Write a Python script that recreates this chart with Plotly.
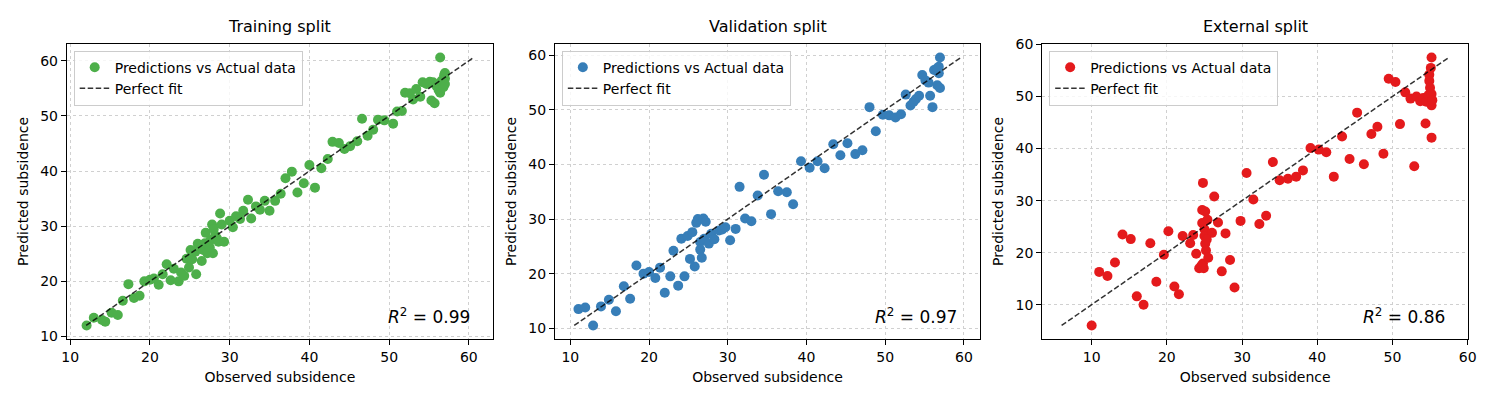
import plotly.graph_objects as go

titles = ["Training split", "Validation split", "External split"]
r2_labels = ["0.99", "0.97", "0.86"]
colors = ["#4daf4a", "#377eb8", "#e41a1c"]

train_obs = [12.06, 12.96, 14.0, 14.4, 15.2, 15.97, 16.6, 17.3, 18.0, 18.7, 19.3, 20.0, 20.5, 21.1, 21.6,
             22.1, 22.6, 23.0, 23.6, 23.9, 24.3, 24.6, 24.9, 25.1, 25.8, 25.7, 26.3, 26.5, 26.7, 26.9,
             27.0, 27.2, 27.6, 27.8, 27.9, 28.2, 28.4, 28.6, 28.8, 29.0, 29.3, 30.0, 30.4, 30.8, 31.3,
             31.7, 32.3, 32.7, 33.3, 33.8, 34.4, 35.0, 35.7, 36.4, 37.0, 37.8, 38.5, 39.3, 40.0, 40.7,
             41.5, 42.3, 42.9, 43.7, 44.4, 45.1, 46.0, 46.6, 47.3, 48.0, 48.6, 49.4, 50.5, 51.0, 51.6,
             52.0, 52.6, 53.0, 53.4, 53.9, 54.2, 54.7, 55.1, 55.3, 55.7, 55.5, 55.9, 56.2, 56.4, 56.4,
             56.6, 56.8, 56.9, 57.0, 57.0, 57.0, 26.0, 27.5, 28.0, 25.3]
train_pred = [12.0, 13.4, 13.0, 12.7, 14.3, 13.9, 16.5, 19.5, 17.0, 17.4, 20.0, 20.3, 20.5, 19.4, 21.3,
              23.1, 20.2, 22.3, 20.0, 21.6, 21.0, 24.1, 22.5, 25.7, 21.3, 25.4, 26.4, 23.7, 25.7, 26.9,
              28.8, 25.1, 27.5, 30.3, 25.1, 28.3, 27.8, 27.2, 32.3, 30.3, 27.2, 31.0, 29.8, 31.8, 31.3,
              32.8, 34.8, 31.4, 33.6, 33.0, 34.6, 32.8, 34.6, 35.9, 38.7, 39.9, 36.1, 37.8, 41.1, 37.0,
              40.5, 42.2, 45.3, 45.1, 44.0, 44.5, 45.4, 49.5, 46.4, 47.5, 49.3, 49.2, 48.6, 50.8, 50.9,
              54.2, 54.1, 53.0, 54.9, 53.5, 56.1, 55.8, 56.2, 52.8, 52.3, 56.1, 55.5, 54.7, 60.6, 54.2,
              56.4, 55.2, 57.4, 57.8, 56.8, 55.8, 26.8, 26.2, 29.5, 24.0]

val_obs = [11.04, 11.9, 12.9, 13.9, 14.9, 15.8, 16.8, 17.6, 18.4, 19.3, 20.0, 20.8, 21.4, 22.0, 22.7,
           23.1, 23.7, 24.1, 24.5, 24.9, 25.2, 25.5, 25.8, 26.0, 26.2, 26.5, 26.5, 26.7, 26.9, 27.2,
           27.0, 27.6, 27.9, 28.3, 28.9, 29.3, 29.7, 30.3, 31.0, 31.5, 32.2, 33.0, 33.8, 34.6, 35.5,
           36.4, 37.5, 38.3, 39.3, 40.4, 41.4, 42.3, 43.4, 44.3, 45.2, 46.2, 47.1, 48.0, 48.8, 49.7,
           50.5, 51.3, 52.0, 52.6, 53.2, 53.6, 53.9, 54.3, 54.7, 55.1, 55.5, 55.7, 56.0, 56.2, 56.6,
           56.8, 56.6, 56.95, 56.95, 56.8]
val_pred = [13.5, 13.8, 10.5, 14.0, 15.2, 13.1, 17.7, 15.4, 21.5, 20.0, 20.3, 19.2, 21.1, 16.5, 19.5,
            24.2, 17.8, 26.4, 19.5, 26.9, 22.7, 27.6, 21.3, 29.3, 30.0, 25.8, 24.4, 22.9, 30.1, 29.5,
            26.4, 25.5, 27.3, 26.3, 27.9, 28.1, 28.5, 26.1, 28.2, 35.9, 30.1, 29.6, 34.3, 38.1, 30.9,
            35.1, 34.9, 32.7, 40.6, 39.4, 40.6, 39.3, 43.7, 41.7, 43.9, 41.9, 42.6, 50.5, 46.1, 49.1,
            49.0, 48.6, 49.2, 52.8, 50.8, 51.5, 52.0, 52.6, 56.4, 55.4, 55.0, 52.6, 50.5, 57.3, 57.6,
            56.7, 54.5, 54.0, 59.6, 57.9]

ext_obs = [10.0, 11.0, 12.1, 13.1, 14.1, 15.2, 16.0, 16.9, 17.8, 18.6, 19.6, 20.2, 21.0, 21.6, 22.1,
           23.1, 23.5, 23.9, 24.3, 24.7, 24.8, 24.8, 24.9, 24.7, 25.0, 25.1, 25.2, 25.1, 25.4, 25.0,
           26.0, 26.3, 26.8, 27.3, 27.8, 28.4, 29.0, 29.8, 30.6, 31.5, 32.3, 33.2, 34.1, 35.0, 36.1,
           37.2, 38.1, 39.1, 40.2, 41.2, 42.2, 43.3, 44.3, 45.3, 46.2, 47.2, 48.0, 48.8, 49.5, 50.4,
           51.0, 51.7, 52.4, 52.9, 53.2, 53.7, 54.1, 54.4, 54.5, 54.8, 55.2, 55.1, 54.9, 54.9, 55.0,
           55.2, 55.2, 55.3, 55.2, 25.3, 25.5, 24.6]
ext_pred = [6.0, 16.3, 15.5, 18.1, 23.5, 22.6, 11.6, 10.0, 21.8, 14.4, 19.6, 24.1, 13.5, 12.0, 23.2,
            21.8, 23.4, 19.8, 17.0, 28.2, 33.4, 17.9, 17.0, 25.7, 24.5, 21.7, 20.4, 27.9, 26.3, 23.2,
            23.8, 30.8, 25.8, 16.4, 23.7, 18.6, 13.3, 26.1, 35.3, 30.2, 25.5, 27.1, 37.4, 33.9, 34.2,
            34.6, 35.8, 40.1, 39.8, 39.3, 34.6, 42.3, 38.0, 46.9, 37.0, 42.8, 44.2, 39.0, 53.4, 52.8,
            44.7, 50.8, 49.6, 36.6, 50.0, 49.1, 49.7, 44.8, 49.0, 50.3, 57.5, 55.5, 54.2, 53.0, 51.7,
            50.5, 48.3, 49.3, 42.1, 22.5, 19.0, 17.5]

datasets = [(train_obs, train_pred), (val_obs, val_pred), (ext_obs, ext_pred)]

W, H = 1500, 400
x_px = [(62.3, 492.3), (554.7, 983.7), (1046.3, 1476.0)]
y_dom = [1 - 342.0 / H, 1 - 37.3 / H]
FONT = "DejaVu Sans, sans-serif"

fig = go.Figure()
layout = dict(
    width=W, height=H, margin=dict(l=0, r=0, t=0, b=0),
    paper_bgcolor="white", plot_bgcolor="white",
    font=dict(family=FONT, size=14, color="black"),
    annotations=[],
)

for i, ((obs, pred), title, r2, col) in enumerate(zip(datasets, titles, r2_labels, colors)):
    n = "" if i == 0 else str(i + 1)
    xa, ya = "x" + n, "y" + n
    leg = "legend" + n
    lo = min(min(obs), min(pred))
    hi = max(max(obs), max(pred))
    fig.add_trace(go.Scatter(
        x=obs, y=pred, mode="markers", name="Predictions vs Actual data",
        marker=dict(color=col, size=10, line=dict(width=0)),
        xaxis=xa, yaxis=ya, legend=leg,
    ))
    fig.add_trace(go.Scatter(
        x=[lo, hi], y=[lo, hi], mode="lines", name="Perfect fit",
        line=dict(color="rgba(0,0,0,0.8)", width=1.5, dash="5.5px,2.5px"),
        xaxis=xa, yaxis=ya, legend=leg,
    ))

    xlo = min(obs + [lo]); xhi = max(obs + [hi])
    ylo = min(pred + [lo]); yhi = max(pred + [hi])
    mx = 0.05 * (xhi - xlo); my = 0.05 * (yhi - ylo)

    axis_common = dict(
        showline=True, mirror=True, linecolor="black", linewidth=1,
        ticks="outside", ticklen=5, tickwidth=1, tickcolor="black",
        tickmode="linear", tick0=0, dtick=10,
        showgrid=True, gridcolor="#d0d0d0", griddash="dot", gridwidth=1,
        zeroline=False, tickfont=dict(size=14, color="black"),
    )
    layout["xaxis" + n] = dict(
        axis_common,
        domain=[x_px[i][0] / W, x_px[i][1] / W],
        range=[xlo - mx, xhi + mx], anchor=ya,
        title=dict(text="Observed subsidence", font=dict(size=14), standoff=8),
    )
    layout["yaxis" + n] = dict(
        axis_common,
        domain=y_dom, range=[ylo - my, yhi + my], anchor=xa,
        title=dict(text="Predicted subsidence", font=dict(size=14), standoff=8),
    )
    layout[leg] = dict(
        x=(x_px[i][0] + 7) / W, y=1 - 44.0 / H, xanchor="left", yanchor="top",
        xref="paper", yref="paper",
        bgcolor="rgba(255,255,255,0.8)", bordercolor="#cccccc", borderwidth=1,
        font=dict(size=14, color="black"), tracegroupgap=0, itemwidth=30,
    )
    layout["annotations"].append(dict(
        text=title, xref="paper", yref="paper",
        x=(x_px[i][0] + x_px[i][1]) / 2 / W, y=1 - 31.0 / H,
        xanchor="center", yanchor="bottom", showarrow=False,
        font=dict(size=16, color="black"),
    ))
    layout["annotations"].append(dict(
        text="<i>R</i><sup>2</sup> = " + r2, xref=xa + " domain", yref=ya + " domain",
        x=0.95, y=0.035, xanchor="right", yanchor="bottom", showarrow=False,
        font=dict(size=17, color="black"),
    ))

fig.update_layout(**layout)
fig.write_html("out.html")
